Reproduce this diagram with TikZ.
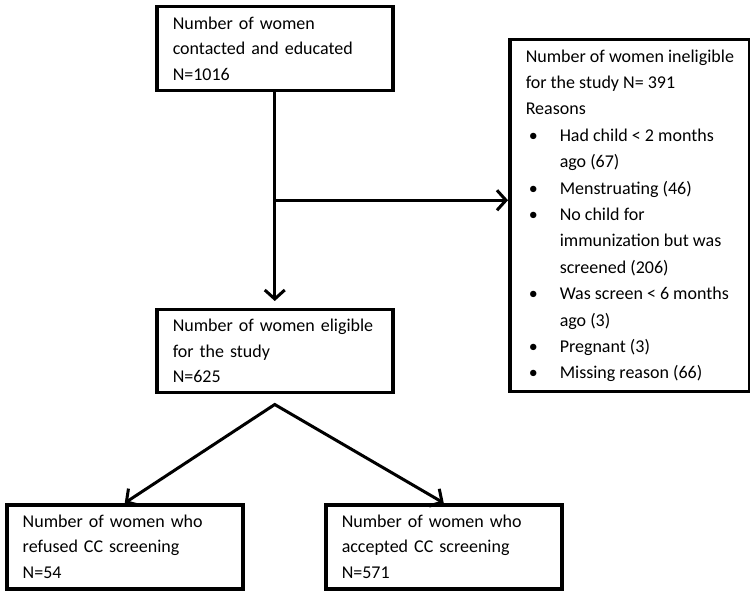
\documentclass[tikz,border=0pt]{standalone}
\usepackage{fontspec}
\setmainfont{Carlito}
\usetikzlibrary{arrows.meta,calc}
\newcommand{\itm}{\makebox[34pt][l]{\hspace{3pt}\textbullet}}
\newcommand{\cnt}{\hspace*{34pt}}
\begin{document}
\begin{tikzpicture}[x=1pt,y=-1pt,
    box/.style={draw,line width=3.5pt,anchor=north west,align=left,inner xsep=16pt,inner ysep=0pt,
      font=\fontsize{18}{25.5}\selectfont},
    arr/.style={line width=3pt,-{Straight Barb[length=9pt,width=20pt]}},
    dbl/.style={line width=3pt,{Straight Barb[length=9pt,width=20pt]}-{Straight Barb[length=9pt,width=20pt]}}]
  \useasboundingbox (0,0) rectangle (750,593);
  \node[box,text width=204pt,minimum height=84pt] (contacted) at (155,5)
    {Number of women\\contacted and educated\\N=1016};
  \node[box,text width=204pt,minimum height=83pt] (eligible) at (155,308)
    {Number of women eligible\\for the study\\N=625};
  \node[box,minimum width=238pt,minimum height=352pt,font=\fontsize{18}{26.4}\selectfont] (ineligible) at (508,38)
    {Number of women ineligible\\
     for the study N= 391\\
     Reasons\\
     \itm Had child < 2 months\\
     \cnt ago (67)\\
     \itm Menstruating (46)\\
     \itm No child for\\
     \cnt immunization but was\\
     \cnt screened (206)\\
     \itm Was screen < 6 months\\
     \cnt ago (3)\\
     \itm Pregnant (3)\\
     \itm Missing reason (66)};
  \node[box,text width=204pt,minimum height=84pt] (refused) at (5,503)
    {Number of women who\\refused CC screening\\N=54};
  \node[box,text width=204pt,minimum height=84pt] (accepted) at (324,503)
    {Number of women who\\accepted CC screening\\N=571};
  \coordinate (branch) at ($(contacted.south)!0.5!(eligible.north)$);
  \coordinate (apex) at ([yshift=-10pt]eligible.south);
  \draw[arr,shorten >=7pt] (contacted.south) -- (eligible.north);
  \draw[arr] (branch) -- (branch -| ineligible.west);
  \draw[dbl] (refused.north) -- (apex) -- (accepted.north);
\end{tikzpicture}
\end{document}
